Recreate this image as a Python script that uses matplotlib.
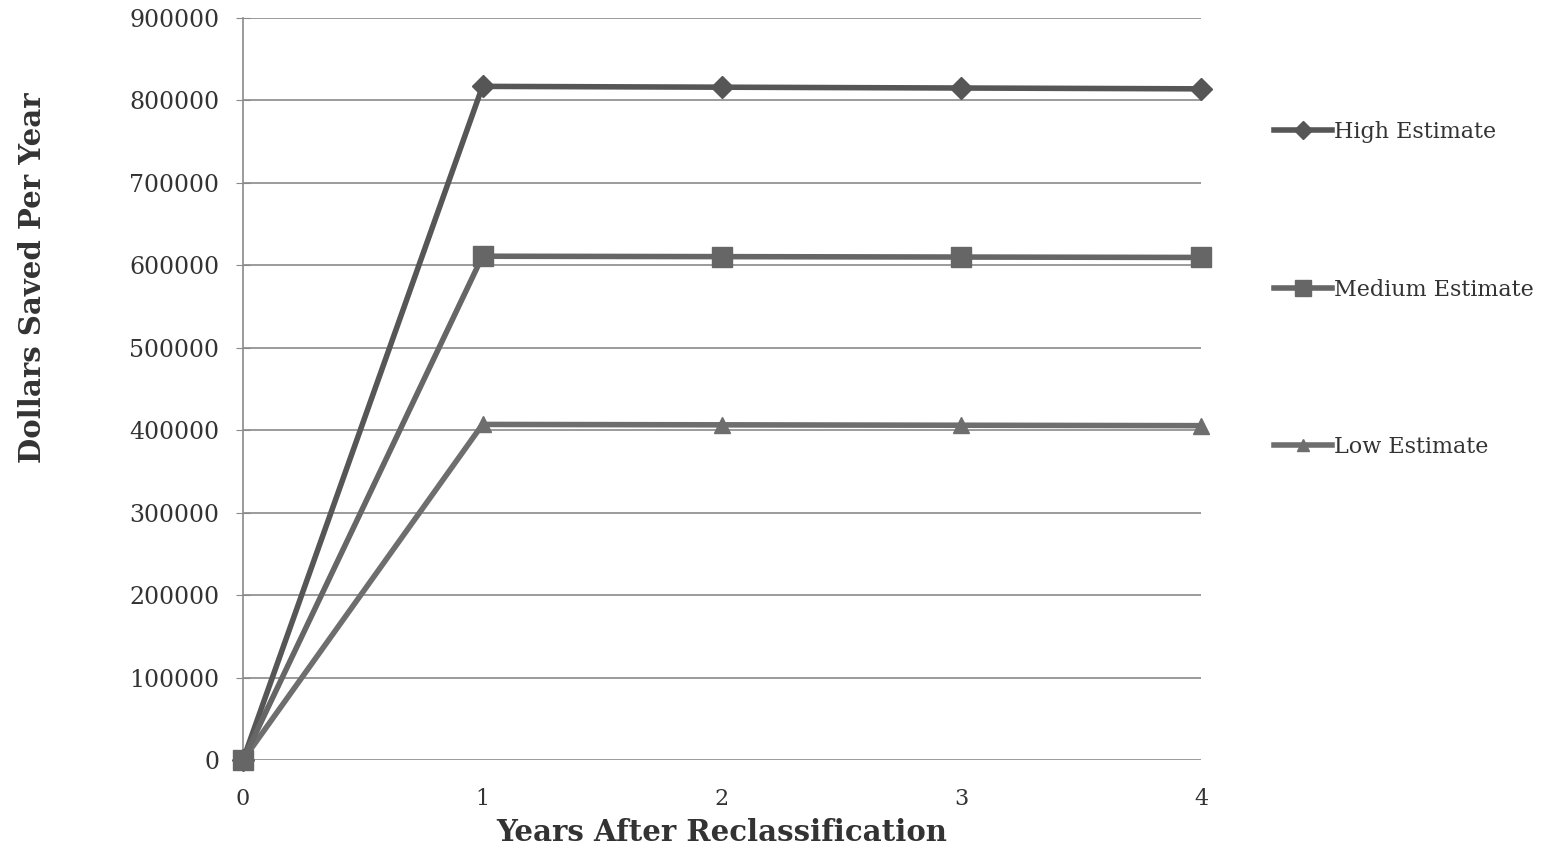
import matplotlib
matplotlib.use("Agg")
import matplotlib.pyplot as plt

# valores
anos = [0, 1, 2, 3, 4]
alta = [0, 817000, 816000, 815000, 814000]
media = [0, 611000, 610500, 610000, 609500]
baixa = [0, 407000, 406500, 406000, 405500]
yticks = [0, 100000, 200000, 300000, 400000, 500000, 600000, 700000, 800000, 900000]

plt.rcParams['font.family'] = ['DejaVu Serif']

fig = plt.figure(figsize=(15.5, 8.5), dpi=100)
ax = fig.add_axes([0.1568, 0.1059, 0.618, 0.873])

ax.plot(anos, alta, color='#565656', lw=4, marker='D', ms=11, label='High Estimate',
        clip_on=False, zorder=3)
ax.plot(anos, baixa, color='#6e6e6e', lw=4, marker='^', ms=11, label='Low Estimate',
        clip_on=False, zorder=3)
ax.plot(anos, media, color='#666666', lw=4, marker='s', ms=15, label='Medium Estimate',
        clip_on=False, zorder=4)

ax.set_xlim(0, 4)
ax.set_ylim(0, 900000)
ax.set_xticks(anos)
ax.set_yticks(yticks)
ax.set_yticklabels([str(v) for v in yticks])

ax.grid(axis='y', color='#8a8a8a', lw=1.2)
ax.set_axisbelow(True)
for s in ['top', 'right', 'bottom']:
    ax.spines[s].set_visible(False)
ax.spines['left'].set_color('#8a8a8a')
ax.spines['left'].set_linewidth(1.2)
ax.tick_params(axis='y', direction='inout', length=10, color='#8a8a8a', pad=12,
               labelsize=17, labelcolor='#333333')
ax.tick_params(axis='x', length=0, pad=20, labelsize=16, labelcolor='#333333')

ax.set_xlabel('Years After Reclassification', fontsize=21, fontweight='bold',
              color='#333333', labelpad=6)
ax.set_ylabel('Dollars Saved Per Year', fontsize=21, fontweight='bold',
              color='#333333')
ax.yaxis.set_label_coords(-0.205, 0.65)

handles, labels = ax.get_legend_handles_labels()
ordem = [0, 2, 1]
leg = fig.legend([handles[i] for i in ordem], [labels[i] for i in ordem],
                 loc='upper left', bbox_to_anchor=(0.809, 0.881), frameon=False,
                 fontsize=16, labelspacing=6.1, handlelength=2.6, handletextpad=0.1,
                 labelcolor='#333333', markerscale=0.8)

fig.savefig('out.png', dpi=100)
